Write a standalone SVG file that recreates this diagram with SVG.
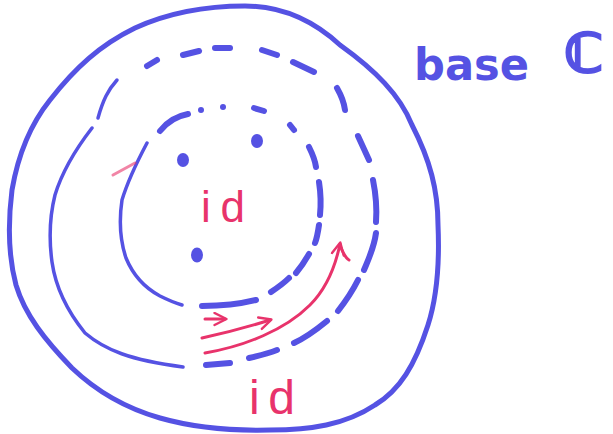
<svg xmlns="http://www.w3.org/2000/svg" width="613" height="434" viewBox="0 0 613 434">
<style>
.blue{fill:none;stroke:#5552e3;stroke-linecap:round;stroke-linejoin:round}
.outer{stroke-width:5}
.dash{stroke-width:6}
.thin{stroke-width:3.5}
.red{fill:none;stroke:#e8336b;stroke-width:3;stroke-linecap:round;stroke-linejoin:round}
.dot{fill:#5552e3}
.lbl{fill:#e8336b;font-family:"Liberation Sans",Arial,sans-serif}
.base{fill:#5552e3;font-family:"DejaVu Sans","Liberation Sans",sans-serif;font-weight:bold}
</style>
<defs>
<marker id="ah" viewBox="0 0 10 10" refX="8" refY="5" markerWidth="5" markerHeight="5" orient="auto" markerUnits="strokeWidth">
<path d="M1,1 L9,5 L1,9" fill="none" stroke="#e8336b" stroke-width="1.6" stroke-linecap="round" stroke-linejoin="round"/>
</marker>
</defs>
<rect width="613" height="434" fill="#ffffff"/>

<g id="outer-ring">
<path class="blue outer" d="M245,6 C285,6 315,22 340,45 C375,70 400,95 412,125 C430,160 438,190 438,225 C440,270 436,300 428,325 C415,365 400,390 375,405 C345,425 310,430 270,430 C230,431 195,428 160,418 C125,408 95,390 72,368 C45,340 25,315 16,285 C8,255 8,222 12,190 C18,155 30,125 50,100 C75,68 100,45 135,28 C170,12 205,6 245,6 Z"/>
</g>

<g id="middle-ring">
<path class="blue thin" d="M117,80 C108,90 103,100 98,118"/>
<path class="blue thin" d="M92,128 C75,150 62,172 55,195 C50,215 49,240 52,262 C56,290 68,312 85,333 C105,350 130,360 183,367"/>
<path class="blue dash" d="M147,66 L157,60"/>
<path class="blue dash" d="M183,55 L199,51"/>
<path class="blue dash" d="M215,48 L230,48"/>
<path class="blue dash" d="M262,50 L277,55"/>
<path class="blue dash" d="M293,62 L314,72"/>
<path class="blue dash" d="M337,88 C341,95 344,102 345,110"/>
<path class="blue dash" d="M358,136 L369,160"/>
<path class="blue dash" d="M373,180 C376,195 377,208 376,222"/>
<path class="blue dash" d="M376,233 C374,248 369,258 364,270"/>
<path class="blue dash" d="M358,280 C352,292 345,302 338,311"/>
<path class="blue dash" d="M327,321 C316,330 305,338 294,343"/>
<path class="blue dash" d="M277,350 C267,354 258,356 249,358"/>
<path class="blue dash" d="M230,363 L206,365"/>
</g>

<g id="inner-ring">
<path class="blue dash" d="M160,131 C167,122 177,116 188,114"/>
<path class="blue thin" d="M147,143 C138,160 128,180 122,200 C119,220 120,240 126,258 C133,275 145,288 160,296 C168,300 175,303 182,305"/>
<circle class="dot" cx="201" cy="110" r="3"/>
<circle class="dot" cx="223" cy="107" r="3"/>
<path class="blue dash" d="M254,108 L264,111"/>
<path class="blue dash" d="M290,125 L294,130"/>
<path class="blue dash" d="M309,147 C312,153 315,160 316,167"/>
<path class="blue dash" d="M319,182 C321,195 321,205 320,215"/>
<path class="blue dash" d="M319,225 C318,232 317,238 315,243"/>
<path class="blue dash" d="M309,254 C305,261 301,267 296,273"/>
<path class="blue dash" d="M289,278 C283,284 277,288 271,292"/>
<path class="blue dash" d="M256,300 C240,304 222,306 202,306"/>
</g>

<g id="points">
<ellipse class="dot" cx="183" cy="160" rx="6" ry="7"/>
<ellipse class="dot" cx="257" cy="141" rx="6" ry="7"/>
<ellipse class="dot" cx="197" cy="255" rx="6" ry="7.5"/>
</g>

<g id="connectors">
<path class="red" d="M205,319 L225,319" marker-end="url(#ah)"/>
<path class="red" d="M202,338 C225,333 248,327 270,320" marker-end="url(#ah)"/>
<path class="red" d="M205,353 C245,346 285,330 310,305 C325,290 335,268 340,244" marker-end="url(#ah)"/>
<path class="red" d="M340,246 C343,252 345,258 349,260"/>
<path class="red" d="M113,175 L135,163" stroke-width="1.2" opacity="0.6"/>
</g>

<g id="labels">
<text class="lbl" x="201" y="222" font-size="44" textLength="44" lengthAdjust="spacing">id</text>
<text class="lbl" x="249" y="414" font-size="48" textLength="46" lengthAdjust="spacing">id</text>
<text class="base" x="414" y="80" font-size="44" textLength="115" lengthAdjust="spacingAndGlyphs">base</text>
<text class="base" x="564" y="72" font-size="54" stroke="#5552e3" stroke-width="2.5">ℂ</text>
</g>
</svg>
